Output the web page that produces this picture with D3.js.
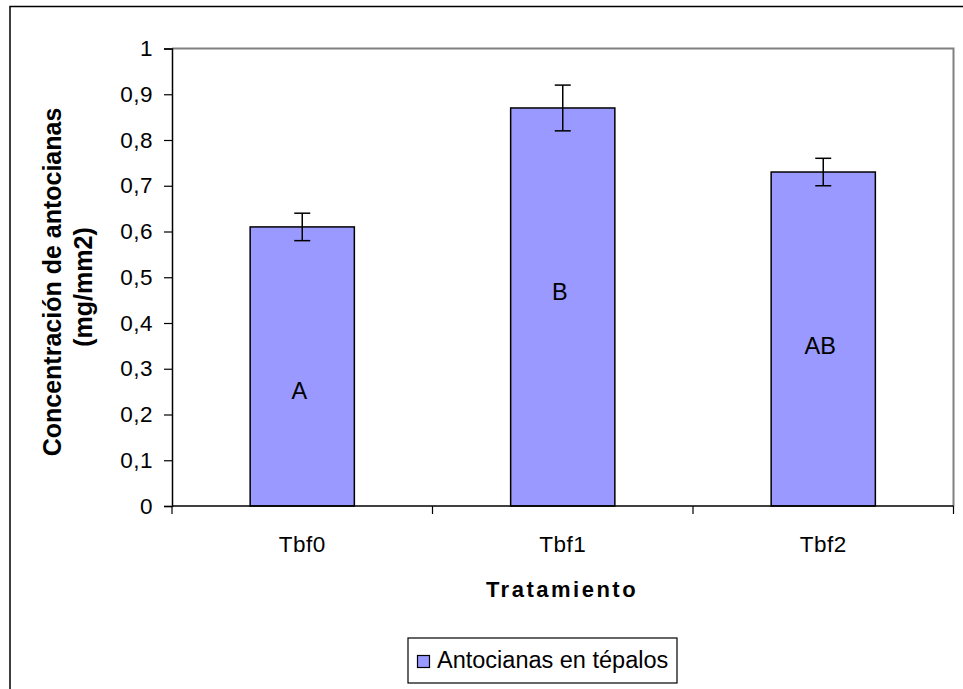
<!DOCTYPE html>
<html>
<head>
<meta charset="utf-8">
<script src="https://cdn.jsdelivr.net/npm/d3@7"></script>
<style>
  html, body { margin: 0; padding: 0; background: #fff; }
  svg { display: block; font-family: Arial, "Liberation Sans", sans-serif; }
</style>
</head>
<body>
<svg id="chart" width="963" height="689"></svg>
<script>
// Anthocyanin concentration per treatment
const categories = ["Tbf0", "Tbf1", "Tbf2"];
const means = [0.61, 0.87, 0.73];
const errors = [0.03, 0.05, 0.03];
const groupLetters = ["A", "B", "AB"];
const letterLevels = [0.234, 0.45, 0.332];   // height (in axis units) of each letter's baseline
const yTicks = [0, 0.1, 0.2, 0.3, 0.4, 0.5, 0.6, 0.7, 0.8, 0.9, 1];
const seriesName = "Antocianas en tépalos";

const svg = d3.select("#chart");
const plot = { left: 172, right: 953.5, top: 48.5, bottom: 506 };
const barFill = "#9999FF";

// outer chart frame (runs past the window edge)
svg.append("rect")
  .attr("x", 10).attr("y", 6.5).attr("width", 1000).attr("height", 1000)
  .attr("fill", "none").attr("stroke", "#000").attr("stroke-width", 1.5);

const x = d3.scaleBand().domain(categories).range([plot.left, plot.right]).padding(0);
const y = d3.scaleLinear().domain([0, 1]).range([plot.bottom, plot.top]);

// plot area: grey top/right edges
svg.append("path")
  .attr("d", `M${plot.left},${plot.top}H${plot.right}V${plot.bottom}`)
  .attr("fill", "none").attr("stroke", "#808080").attr("stroke-width", 2);

// bars
const barW = x.bandwidth() * 0.4;
svg.append("g").selectAll("rect")
  .data(categories)
  .join("rect")
  .attr("x", (d) => x(d) + x.bandwidth() / 2 - barW / 2)
  .attr("y", (d, i) => y(means[i]))
  .attr("width", barW)
  .attr("height", (d, i) => y(0) - y(means[i]))
  .attr("fill", barFill)
  .attr("stroke", "#000").attr("stroke-width", 1.5);

// error bars
const eb = svg.append("g").attr("stroke", "#000").attr("stroke-width", 1.5);
categories.forEach((c, i) => {
  const cx = x(c) + x.bandwidth() / 2;
  const hi = y(means[i] + errors[i]), lo = y(means[i] - errors[i]);
  eb.append("line").attr("x1", cx).attr("x2", cx).attr("y1", hi).attr("y2", lo);
  eb.append("line").attr("x1", cx - 8).attr("x2", cx + 8).attr("y1", hi).attr("y2", hi);
  eb.append("line").attr("x1", cx - 8).attr("x2", cx + 8).attr("y1", lo).attr("y2", lo);
});

// significance letters inside bars
svg.append("g").selectAll("text")
  .data(categories)
  .join("text")
  .attr("x", (d) => x(d) + x.bandwidth() / 2 - 3)
  .attr("y", (d, i) => y(letterLevels[i]))
  .attr("text-anchor", "middle")
  .attr("font-size", 23.5)
  .attr("fill", "#000")
  .text((d, i) => groupLetters[i]);

// y axis
const fmt = (v) => (v === 0 || v === 1) ? String(v) : d3.format(".1f")(v).replace(".", ",");
const yAxis = svg.append("g")
  .attr("transform", `translate(${plot.left},0)`)
  .call(d3.axisLeft(y).tickValues(yTicks).tickFormat(fmt).tickSizeOuter(0).tickSize(8).tickPadding(11));
yAxis.select(".domain").attr("stroke", "#000").attr("stroke-width", 1.5);
yAxis.selectAll(".tick line").attr("stroke", "#000").attr("stroke-width", 1.2);
yAxis.selectAll(".tick text")
  .attr("font-size", 22.5).attr("letter-spacing", 0.5)
  .attr("fill", "#000").attr("font-family", "Arial, 'Liberation Sans', sans-serif");

// x axis with ticks on category boundaries
const xAxis = svg.append("g").attr("transform", `translate(0,${plot.bottom})`);
xAxis.append("line")
  .attr("x1", plot.left).attr("x2", plot.right)
  .attr("stroke", "#000").attr("stroke-width", 1.5);
const boundaries = categories.map((c) => x(c)).concat([x(categories[categories.length - 1]) + x.bandwidth()]);
xAxis.selectAll(".xtick").data(boundaries).join("line")
  .attr("class", "xtick")
  .attr("x1", (d) => d).attr("x2", (d) => d)
  .attr("y1", 0).attr("y2", 8)
  .attr("stroke", "#000").attr("stroke-width", 1.2);
xAxis.selectAll(".xlabel").data(categories).join("text")
  .attr("class", "xlabel")
  .attr("x", (d) => x(d) + x.bandwidth() / 2)
  .attr("y", 46)
  .attr("text-anchor", "middle")
  .attr("font-size", 22.5).attr("letter-spacing", 0.5)
  .attr("fill", "#000")
  .text((d) => d);

// axis titles
svg.append("text")
  .attr("x", 562).attr("y", 597)
  .attr("text-anchor", "middle")
  .attr("font-size", 22).attr("font-weight", "bold")
  .attr("letter-spacing", 2.5)
  .text("Tratamiento");

const yTitle = svg.append("text")
  .attr("transform", "translate(0,282) rotate(-90)")
  .attr("text-anchor", "middle")
  .attr("font-size", 25).attr("font-weight", "bold");
yTitle.append("tspan").attr("x", 0).attr("y", 61).text("Concentración de antocianas");
yTitle.append("tspan").attr("x", -5).attr("y", 92).text("(mg/mm2)");

// legend
const legend = svg.append("g");
legend.append("rect")
  .attr("x", 408).attr("y", 638).attr("width", 269).attr("height", 45)
  .attr("fill", "#fff").attr("stroke", "#000").attr("stroke-width", 1.2);
legend.append("rect")
  .attr("x", 417.5).attr("y", 655.5).attr("width", 12).attr("height", 12)
  .attr("fill", barFill).attr("stroke", "#000").attr("stroke-width", 1.2);
legend.append("text")
  .attr("x", 437).attr("y", 668)
  .attr("font-size", 23.5)
  .attr("fill", "#000")
  .text(seriesName);
</script>
</body>
</html>
